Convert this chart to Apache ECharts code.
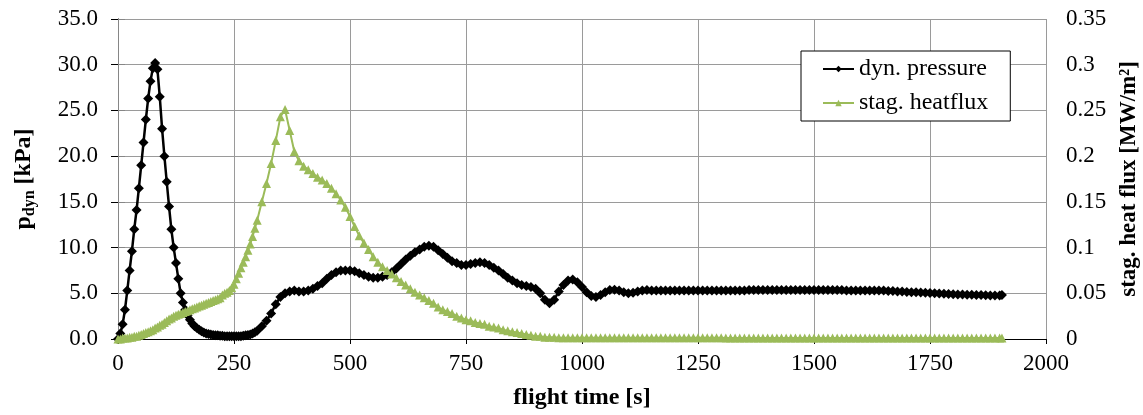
<!DOCTYPE html>
<html>
<head>
<meta charset="utf-8">
<script src="https://cdn.jsdelivr.net/npm/echarts@6/dist/echarts.min.js"></script>
<style>
html,body{margin:0;padding:0;background:#fff;}
#c{width:1143px;height:415px;}
</style>
</head>
<body>
<div id="c"></div>
<script>
// flight time [s]
const timeFine = [
0,5,10,15,20,25,30,35,40,45,
50,55,60,65,70,75,80,85,90,95,
100,105,110,115,120,125,130,135,140,145,
150,155,160,165,170,175,180,185,190,195,
200,205,210,215,220,225,230,235,240,245,
250,255,260,265,270,275,280,285,290,295,
300];
const timeCoarse = [
310,320,330,340,350,360,370,380,390,400,
410,420,430,440,450,460,470,480,490,500,
510,520,530,540,550,560,570,580,590,600,
610,620,630,640,650,660,670,680,690,700,
710,720,730,740,750,760,770,780,790,800,
810,820,830,840,850,860,870,880,890,900,
910,920,930,940,950,960,970,980,990,1000,
1010,1020,1030,1040,1050,1060,1070,1080,1090,1100,
1110,1120,1130,1140,1150,1160,1170,1180,1190,1200,
1210,1220,1230,1240,1250,1260,1270,1280,1290,1300,
1310,1320,1330,1340,1350,1360,1370,1380,1390,1400,
1410,1420,1430,1440,1450,1460,1470,1480,1490,1500,
1510,1520,1530,1540,1550,1560,1570,1580,1590,1600,
1610,1620,1630,1640,1650,1660,1670,1680,1690,1700,
1710,1720,1730,1740,1750,1760,1770,1780,1790,1800,
1810,1820,1830,1840,1850,1860,1870,1880,1890,1900,
1905];

// dynamic pressure [kPa]
const pressureFine = [
0.0,0.6,1.6,3.2,5.3,7.5,9.6,12.0,14.1,16.5,
19.0,21.5,24.0,26.3,28.2,29.6,30.2,29.5,26.5,23.0,
20.0,17.2,14.5,12.0,10.0,8.3,6.6,5.0,4.0,3.2,
2.6,2.1,1.7,1.4,1.2,1.0,0.85,0.7,0.6,0.55,
0.5,0.45,0.4,0.4,0.35,0.35,0.3,0.3,0.3,0.3,
0.3,0.3,0.3,0.3,0.35,0.4,0.45,0.5,0.6,0.75,
0.9];
const pressureCoarse = [
1.4,2.0,2.8,3.8,4.6,5.0,5.2,5.3,5.2,5.2,
5.3,5.5,5.8,6.1,6.6,7.0,7.3,7.5,7.5,7.5,
7.4,7.2,7.0,6.8,6.7,6.7,6.8,7.0,7.3,7.7,
8.2,8.7,9.1,9.5,9.8,10.1,10.2,10.1,9.7,9.3,
8.9,8.5,8.3,8.1,8.1,8.2,8.3,8.4,8.3,8.1,
7.8,7.5,7.1,6.7,6.4,6.1,5.9,5.8,5.7,5.5,
5.0,4.3,3.9,4.3,5.2,5.9,6.4,6.5,6.2,5.7,
5.1,4.7,4.6,4.8,5.1,5.35,5.4,5.3,5.1,5.0,
5.05,5.2,5.3,5.35,5.3,5.3,5.3,5.3,5.3,5.3,
5.3,5.3,5.3,5.3,5.3,5.3,5.3,5.3,5.3,5.3,
5.3,5.3,5.3,5.3,5.3,5.35,5.35,5.35,5.35,5.35,
5.35,5.35,5.35,5.35,5.35,5.35,5.35,5.35,5.35,5.35,
5.35,5.35,5.35,5.35,5.35,5.35,5.3,5.3,5.3,5.3,
5.3,5.3,5.3,5.3,5.3,5.25,5.25,5.2,5.2,5.15,
5.12,5.1,5.08,5.05,5.02,5.0,4.98,4.95,4.93,4.9,
4.88,4.86,4.85,4.83,4.82,4.8,4.78,4.77,4.76,4.75,
4.8];

// stagnation heat flux [MW/m2]
const heatFine = [
0.000,0.000,0.001,0.001,0.001,0.002,0.002,0.003,0.003,0.004,
0.005,0.006,0.007,0.008,0.009,0.010,0.012,0.013,0.015,0.016,
0.018,0.020,0.022,0.023,0.025,0.026,0.027,0.028,0.029,0.030,
0.031,0.032,0.033,0.034,0.035,0.036,0.037,0.038,0.039,0.040,
0.041,0.042,0.043,0.044,0.045,0.048,0.050,0.051,0.053,0.056,
0.060,0.066,0.072,0.078,0.084,0.090,0.097,0.104,0.112,0.121,
0.130];
const heatCoarse = [
0.150,0.170,0.192,0.217,0.243,0.251,0.228,0.205,0.195,0.189,
0.185,0.181,0.177,0.174,0.170,0.165,0.159,0.152,0.144,0.134,
0.123,0.113,0.105,0.098,0.090,0.084,0.079,0.075,0.071,0.067,
0.063,0.059,0.055,0.051,0.048,0.045,0.042,0.039,0.035,0.032,
0.030,0.028,0.025,0.023,0.021,0.020,0.018,0.017,0.016,0.014,
0.013,0.012,0.010,0.009,0.008,0.007,0.006,0.005,0.004,0.003,
0.003,0.002,0.002,0.002,0.0015,0.0015,0.0015,0.0015,0.0015,0.0015,
0.0014,0.0014,0.0014,0.0014,0.0014,0.0014,0.0014,0.0014,0.0014,0.0014,
0.0013,0.0013,0.0013,0.0013,0.0013,0.0013,0.0013,0.0013,0.0013,0.0013,
0.0013,0.0013,0.0013,0.0013,0.0013,0.0013,0.0013,0.0013,0.0013,0.0013,
0.0012,0.0012,0.0012,0.0012,0.0012,0.0012,0.0012,0.0012,0.0012,0.0012,
0.0012,0.0012,0.0012,0.0012,0.0012,0.0012,0.0012,0.0012,0.0012,0.0012,
0.0011,0.0011,0.0011,0.0011,0.0011,0.0011,0.0011,0.0011,0.0011,0.0011,
0.0011,0.0011,0.0011,0.0011,0.0011,0.0011,0.0011,0.0011,0.0011,0.0011,
0.0010,0.0010,0.0010,0.0010,0.0010,0.0010,0.0010,0.0010,0.0010,0.0010,
0.0010,0.0010,0.0010,0.0010,0.0010,0.0010,0.0010,0.0010,0.0010,0.0010,
0.0010];

const xTicks = [0,250,500,750,1000,1250,1500,1750,2000];
const seriesNames = ['dyn. pressure', 'stag. heatflux'];

const time = timeFine.concat(timeCoarse);
const pressure = pressureFine.concat(pressureCoarse);
const heat = heatFine.concat(heatCoarse);

const FONT = "'Liberation Serif','Times New Roman',serif";
const chart = echarts.init(document.getElementById('c'), null, {renderer:'canvas'});
chart.setOption({
  animation: false,
  backgroundColor: '#fff',
  textStyle: {fontFamily: FONT, color: '#000'},
  grid: {left: 118, right: 97, top: 19, bottom: 76, containLabel: false, outerBoundsMode: 'none'},
  legend: {
    orient: 'vertical',
    left: 801, top: 51,
    padding: [6, 22, 6, 21],
    itemGap: 10,
    itemWidth: 31, itemHeight: 8,
    borderColor: '#000', borderWidth: 1,
    backgroundColor: '#fff',
    textStyle: {fontFamily: FONT, fontSize: 24, color: '#000'},
    data: seriesNames
  },
  xAxis: [{
    type: 'value', min: 0, max: 2000, interval: 250,
    name: 'flight time [s]', nameLocation: 'middle', nameGap: 47,
    nameTextStyle: {fontFamily: FONT, fontSize: 24, fontWeight: 'bold', color: '#000'},
    axisLine: {show: true, lineStyle: {color: '#000', width: 1}},
    axisTick: {show: true, length: 5, lineStyle: {color: '#000'}},
    axisLabel: {fontFamily: FONT, fontSize: 23, color: '#000', margin: 13,
      formatter: v => xTicks.indexOf(v) >= 0 ? String(v) : ''},
    splitLine: {show: true, lineStyle: {color: '#9a9a9a', width: 1}}
  }, {
    type: 'value', min: 0, max: 2000, position: 'top',
    axisLine: {show: true, lineStyle: {color: '#000', width: 1}},
    axisTick: {show: false}, axisLabel: {show: false}, splitLine: {show: false}
  }],
  yAxis: [{
    type: 'value', min: 0, max: 35, interval: 5, position: 'left',
    name: '{a|p}{b|dyn}{a| [kPa]}', nameLocation: 'middle', nameGap: 82, nameRotate: 90,
    nameTextStyle: {
      rich: {
        a: {fontFamily: FONT, fontSize: 24, fontWeight: 'bold', color: '#000', lineHeight: 25},
        b: {fontFamily: FONT, fontSize: 16, fontWeight: 'bold', color: '#000', lineHeight: 16, padding: [12, 0, 0, 0]}
      }
    },
    axisLine: {show: true, lineStyle: {color: '#000', width: 1}},
    axisTick: {show: true, length: 7, lineStyle: {color: '#000'}},
    axisLabel: {fontFamily: FONT, fontSize: 23, color: '#000', margin: 20, formatter: v => v.toFixed(1)},
    splitLine: {show: true, lineStyle: {color: '#9a9a9a', width: 1}}
  }, {
    type: 'value', min: 0, max: 0.35, interval: 0.05, position: 'right',
    name: 'stag. heat flux [MW/m²]', nameLocation: 'middle', nameGap: 70, nameRotate: 90,
    nameTextStyle: {fontFamily: FONT, fontSize: 23, fontWeight: 'bold', color: '#000'},
    axisLine: {show: true, lineStyle: {color: '#868686', width: 1}},
    axisTick: {show: true, length: 7, lineStyle: {color: '#868686'}},
    axisLabel: {fontFamily: FONT, fontSize: 23, color: '#000', margin: 20, formatter: v => String(+v.toFixed(2))},
    splitLine: {show: false}
  }],
  series: [{
    name: seriesNames[0], type: 'line', yAxisIndex: 0,
    data: time.map((t, i) => [t, pressure[i]]),
    symbol: 'diamond', symbolSize: 10, showAllSymbol: true, clip: false,
    lineStyle: {color: '#000', width: 2.5},
    itemStyle: {color: '#000'}
  }, {
    name: seriesNames[1], type: 'line', yAxisIndex: 1,
    data: time.map((t, i) => [t, heat[i]]),
    symbol: 'triangle', symbolSize: 9, showAllSymbol: true, clip: false,
    lineStyle: {color: '#9bbb59', width: 2},
    itemStyle: {color: '#9bbb59'}
  }]
});
</script>
</body>
</html>
